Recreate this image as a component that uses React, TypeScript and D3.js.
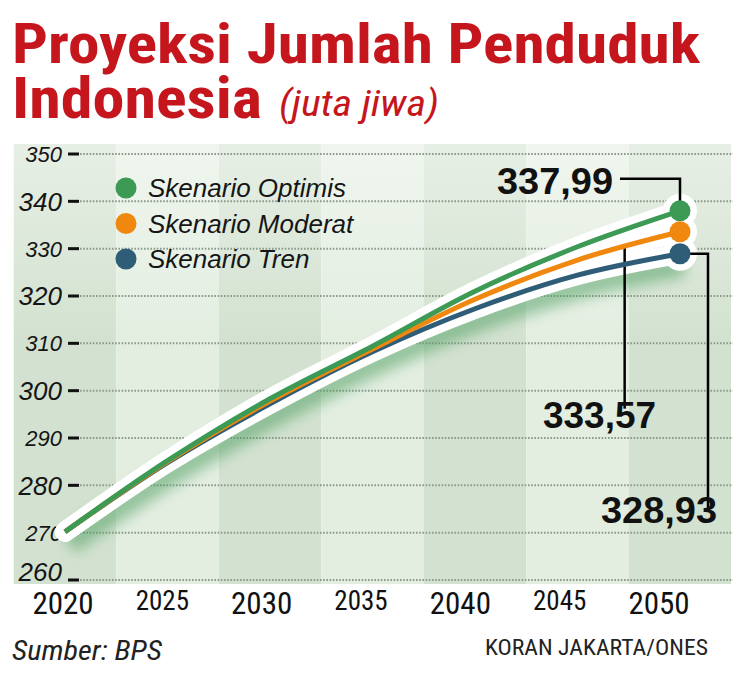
import * as d3 from "d3";

const years = [2020, 2025, 2030, 2035, 2040, 2045, 2050];
const yearLabels = ["2020", "2025", "2030", "2035", "2040", "2045", "2050"];
const optimis = [270.2, 285.2, 298.3, 309.4, 321.0, 330.4, 337.99];
const moderat = [270.2, 285.0, 297.8, 308.8, 319.3, 327.6, 333.57];
const tren = [270.2, 284.8, 297.2, 308.2, 317.3, 324.4, 328.93];
const yTicks = [260, 270, 280, 290, 300, 310, 320, 330, 340, 350];
const seriesNames = ["Skenario Optimis", "Skenario Moderat", "Skenario Tren"];
const seriesColors = ["#3c9a55", "#f0870e", "#2f5d77"];
const endLabels = ["337,99", "333,57", "328,93"];

const W = 745;
const H = 691;
const narrow = "'Liberation Sans Narrow', 'Roboto Condensed', 'Liberation Sans', sans-serif";
const sans = "'Liberation Sans', Arial, sans-serif";

const App = () => {
  const left = 12, right = 731, top = 144, bottom = 584;
  const x = d3.scaleLinear().domain([2020, 2050]).range([65, 680]);
  const xl = d3.scalePoint().domain(yearLabels).range([63, 659]);
  const y = d3.scaleLinear().domain([260, 350]).range([580, 154]);
  const step = x(2025) - x(2020);

  const all = [optimis, moderat, tren];
  const line = d3.line<number>()
    .x((d, i) => x(years[i]))
    .y((d) => y(d))
    .curve(d3.curveMonotoneX);

  const last = years.length - 1;
  const ex = x(years[last]);

  // moderat callout sits on the line a bit before 2050
  const cy = 2047.3;
  const t = (cy - years[last - 1]) / (years[last] - years[last - 1]);
  const cVal = moderat[last - 1] + t * (moderat[last] - moderat[last - 1]);

  return (
    <svg width={W} height={H} style={{ display: "block", margin: "-8px", background: "#fff" }}>
      <defs>
        <filter id="shadow" x="-20%" y="-20%" width="140%" height="160%">
          <feGaussianBlur stdDeviation="7" />
        </filter>
        <linearGradient id="fade" x1="0" y1="0" x2="0" y2="1">
          <stop offset="0" stopColor="#fff" stopOpacity="0.45" />
          <stop offset="0.45" stopColor="#fff" stopOpacity="0" />
        </linearGradient>
        <clipPath id="plot">
          <rect x={left} y={top} width={right - left} height={bottom - top} />
        </clipPath>
      </defs>

      {/* title */}
      <text x={12} y={63} fill="#c4161c" fontFamily={narrow} fontWeight="bold" fontSize={56}
        textLength={688} lengthAdjust="spacingAndGlyphs">Proyeksi Jumlah Penduduk</text>
      <text x={12} y={118} fill="#c4161c" fontFamily={narrow} fontWeight="bold" fontSize={57}
        textLength={250} lengthAdjust="spacingAndGlyphs">Indonesia</text>
      <text x={279} y={116} fill="#c4161c" fontFamily={narrow} fontStyle="italic" fontSize={36}
        textLength={160} lengthAdjust="spacingAndGlyphs">(juta jiwa)</text>

      {/* background bands */}
      <g clipPath="url(#plot)">
        {years.map((yr, i) => (
          <rect key={yr} x={x(yr) - step / 2} y={top} width={step} height={bottom - top}
            fill={i % 2 === 0 ? "#d3e2d0" : "#e3eee1"} />
        ))}
        <rect x={left} y={top} width={right - left} height={bottom - top} fill="url(#fade)" />
      </g>

      {/* grid + ticks */}
      {yTicks.map((v, i) => (
        <g key={v}>
          <line x1={80} x2={733} y1={y(v)} y2={y(v)} stroke="#8d9b8d" strokeWidth={2}
            strokeDasharray="1.6 1.6" />
          <line x1={68} x2={79} y1={y(v)} y2={y(v)} stroke="#111" strokeWidth={3} />
          <text x={62} y={y(v)} dy={i === 0 ? "0.02em" : "0.36em"} textAnchor="end" fontFamily={sans}
            fontStyle="italic" fontSize={i % 2 === 0 ? 26 : 22} fill="#151515">{v}</text>
        </g>
      ))}

      {/* shadow + halo */}
      <g clipPath="url(#plot)">
        <path d={line(tren) || ""} transform="translate(4,12)" fill="none" stroke="#4f9f62"
          strokeWidth={22} opacity={0.55} filter="url(#shadow)" />
      </g>
      {all.map((s, i) => (
        <path key={"h" + i} d={line(s) || ""} fill="none" stroke="#fff" strokeWidth={20}
          strokeLinejoin="round" strokeLinecap="round" />
      ))}
      {all.map((s, i) => (
        <circle key={"hc" + i} cx={ex} cy={y(s[last])} r={17} fill="#fff" />
      ))}

      {/* callout leaders */}
      <polyline points={`${ex - 60},${y(optimis[last]) - 32} ${ex},${y(optimis[last]) - 32} ${ex},${y(optimis[last]) - 8}`}
        fill="none" stroke="#000" strokeWidth={2.5} />
      <polyline points={`${x(cy)},${y(cVal)} ${x(cy)},${y(296.2)}`}
        fill="none" stroke="#000" strokeWidth={2.5} />
      <polyline points={`${ex + 8},${y(tren[last])} ${ex + 28},${y(tren[last])} ${ex + 28},${y(274.4)}`}
        fill="none" stroke="#000" strokeWidth={2.5} />

      {/* series lines */}
      {[tren, moderat, optimis].map((s, j) => {
        const i = 2 - j;
        return (
          <path key={"l" + i} d={line(s) || ""} fill="none" stroke={seriesColors[i]} strokeWidth={5}
            strokeLinejoin="round" />
        );
      })}
      {all.map((s, i) => (
        <circle key={"d" + i} cx={ex} cy={y(s[last])} r={10.5} fill={seriesColors[i]} />
      ))}

      {/* end labels */}
      <text x={497} y={194} fontFamily={sans} fontWeight="bold" fontSize={36} fill="#111"
        textLength={116} lengthAdjust="spacingAndGlyphs">{endLabels[0]}</text>
      <text x={543} y={428} fontFamily={sans} fontWeight="bold" fontSize={36} fill="#111"
        textLength={113} lengthAdjust="spacingAndGlyphs">{endLabels[1]}</text>
      <text x={601} y={523} fontFamily={sans} fontWeight="bold" fontSize={36} fill="#111"
        textLength={116} lengthAdjust="spacingAndGlyphs">{endLabels[2]}</text>

      {/* legend */}
      {seriesNames.map((n, i) => (
        <g key={n} transform={`translate(126,${188 + i * 35.5})`}>
          <circle r={10.5} fill={seriesColors[i]} />
          <text x={22} y={0} dy="0.36em" fontFamily={sans} fontStyle="italic" fontSize={26}
            fill="#151515">{n}</text>
        </g>
      ))}

      {/* year labels */}
      {yearLabels.map((l, i) => (
        <text key={l} x={xl(l)} y={i % 2 === 0 ? 614 : 610} textAnchor="middle" fontFamily={narrow}
          fontSize={i % 2 === 0 ? 31 : 27} fill="#111">{l}</text>
      ))}

      {/* footer */}
      <text x={12} y={660} fontFamily={narrow} fontStyle="italic" fontSize={27} fill="#222"
        textLength={150} lengthAdjust="spacingAndGlyphs">Sumber: BPS</text>
      <text x={485} y={655} fontFamily={narrow} fontSize={22} fill="#222"
        textLength={223} lengthAdjust="spacingAndGlyphs">KORAN JAKARTA/ONES</text>
    </svg>
  );
};

export default App;
